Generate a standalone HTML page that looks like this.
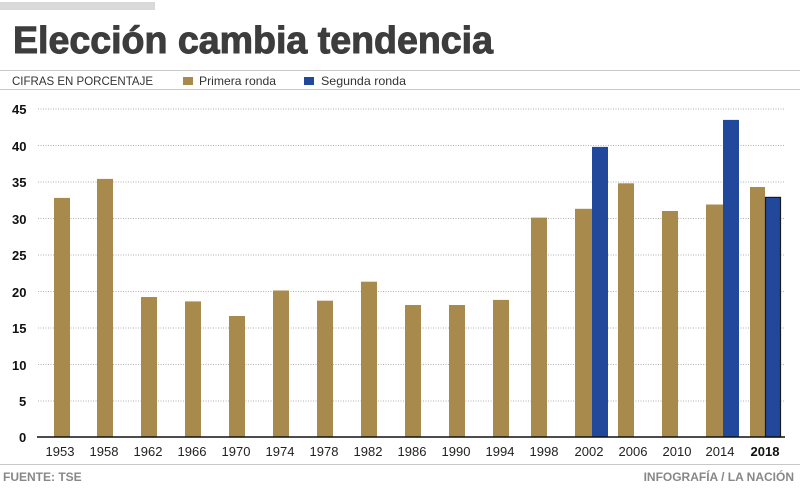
<!DOCTYPE html>
<html><head><meta charset="utf-8"><style>
body{margin:0;background:#fff}
svg{display:block}
text{font-family:"Liberation Sans",sans-serif}
</style></head><body>
<svg width="800" height="493" viewBox="0 0 800 493" xmlns="http://www.w3.org/2000/svg">
<rect x="0" y="2" width="155" height="8" fill="#d9d9d9"/>
<text x="13" y="53" font-size="38" font-weight="bold" fill="#3d3d3d" stroke="#3d3d3d" stroke-width="1" textLength="480" lengthAdjust="spacingAndGlyphs">Elección cambia tendencia</text>
<line x1="0" y1="70.5" x2="800" y2="70.5" stroke="#c8c8c8"/>
<line x1="0" y1="89.5" x2="800" y2="89.5" stroke="#c8c8c8"/>
<text x="12" y="85" font-size="12" fill="#333" textLength="141" lengthAdjust="spacingAndGlyphs">CIFRAS EN PORCENTAJE</text>
<rect x="183" y="77" width="10" height="8" fill="#a88b4c"/>
<text x="199" y="85" font-size="12" fill="#333" textLength="77" lengthAdjust="spacingAndGlyphs">Primera ronda</text>
<rect x="304" y="77" width="10" height="8" fill="#21489a"/>
<text x="321" y="85" font-size="12" fill="#333" textLength="85" lengthAdjust="spacingAndGlyphs">Segunda ronda</text>
<g stroke="#999" stroke-dasharray="1,1.5" stroke-width="0.8">
<line x1="38" y1="109" x2="785" y2="109"/><line x1="38" y1="145.5" x2="785" y2="145.5"/>
<line x1="38" y1="182" x2="785" y2="182"/><line x1="38" y1="218.5" x2="785" y2="218.5"/>
<line x1="38" y1="255" x2="785" y2="255"/><line x1="38" y1="291.5" x2="785" y2="291.5"/>
<line x1="38" y1="328" x2="785" y2="328"/><line x1="38" y1="364.5" x2="785" y2="364.5"/>
<line x1="38" y1="401" x2="785" y2="401"/>
</g>
<g font-size="13" font-weight="bold" fill="#111">
<text x="12" y="114">45</text><text x="12" y="151">40</text><text x="12" y="187">35</text>
<text x="12" y="224">30</text><text x="12" y="260">25</text><text x="12" y="297">20</text>
<text x="12" y="333">15</text><text x="12" y="370">10</text><text x="19" y="406">5</text>
<text x="19" y="442">0</text>
</g>
<g fill="#a88b4c">
<rect x="54" y="197.9" width="16" height="239.1"/>
<rect x="97" y="178.9" width="16" height="258.1"/>
<rect x="141" y="297" width="16" height="140"/>
<rect x="185" y="301.4" width="16" height="135.6"/>
<rect x="229" y="316" width="16" height="121"/>
<rect x="273" y="290.5" width="16" height="146.5"/>
<rect x="317" y="300.7" width="16" height="136.3"/>
<rect x="361" y="281.7" width="16" height="155.3"/>
<rect x="405" y="305" width="16" height="132"/>
<rect x="449" y="305" width="16" height="132"/>
<rect x="493" y="299.9" width="16" height="137.1"/>
<rect x="531" y="217.6" width="16" height="219.4"/>
<rect x="575" y="208.8" width="17" height="228.2"/>
<rect x="618" y="183.3" width="16" height="253.7"/>
<rect x="662" y="211" width="16" height="226"/>
<rect x="706" y="204.5" width="17" height="232.5"/>
<rect x="750" y="187" width="15" height="250"/>
</g>
<g fill="#21489a">
<rect x="592" y="146.9" width="16" height="290.1"/>
<rect x="723" y="119.9" width="16" height="317.1"/>
<rect x="765.5" y="197.4" width="15" height="239.6" stroke="#1a1a1a" stroke-width="1.2"/>
</g>
<line x1="37" y1="437" x2="785" y2="437" stroke="#111" stroke-width="1.5"/>
<g font-size="13" fill="#222" text-anchor="middle">
<text x="60" y="456">1953</text><text x="104" y="456">1958</text><text x="148" y="456">1962</text>
<text x="192" y="456">1966</text><text x="236" y="456">1970</text><text x="280" y="456">1974</text>
<text x="324" y="456">1978</text><text x="368" y="456">1982</text><text x="412" y="456">1986</text>
<text x="456" y="456">1990</text><text x="500" y="456">1994</text><text x="544" y="456">1998</text>
<text x="589" y="456">2002</text><text x="633" y="456">2006</text><text x="677" y="456">2010</text>
<text x="720" y="456">2014</text><text x="765" y="456" font-weight="bold" fill="#111">2018</text>
</g>
<line x1="0" y1="464.5" x2="800" y2="464.5" stroke="#c8c8c8"/>
<text x="3" y="481" font-size="12" font-weight="bold" fill="#888">FUENTE: TSE</text>
<text x="794" y="481" font-size="12" font-weight="bold" fill="#888" text-anchor="end">INFOGRAFÍA / LA NACIÓN</text>
</svg>
</body></html>
